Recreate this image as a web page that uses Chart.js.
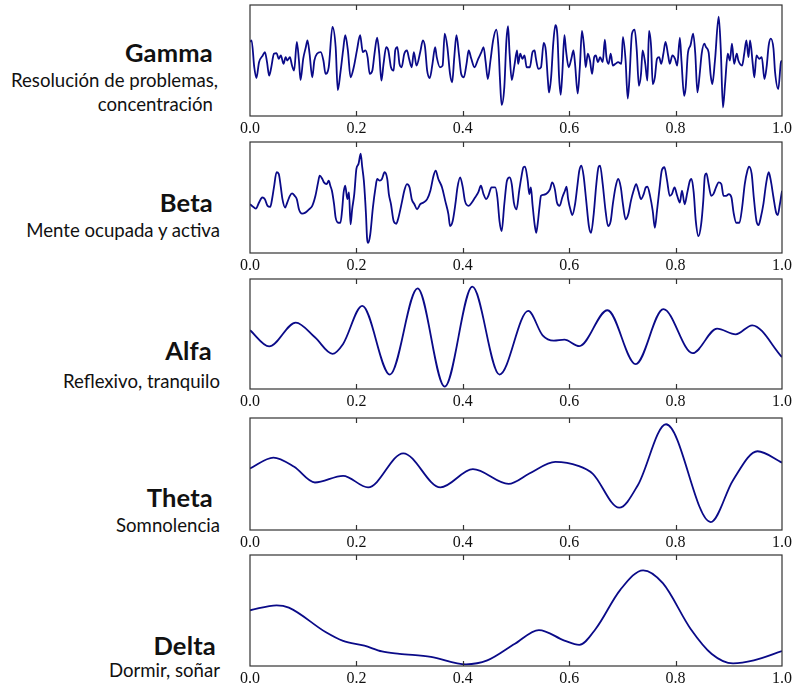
<!DOCTYPE html>
<html>
<head>
<meta charset="utf-8">
<script src="https://cdn.jsdelivr.net/npm/chart.js@4.4.0/dist/chart.umd.min.js"></script>
<style>
  body { margin: 0; background: #fff; width: 795px; height: 689px; overflow: hidden; position: relative; font-family: 'Lato', 'Open Sans', sans-serif; color: #111; }
  .panel { position: absolute; left: 0; width: 795px; }
  .lbl { position: absolute; white-space: nowrap; text-align: right; }
  .ttl { font-weight: bold; font-size: 25.5px; line-height: 30px; letter-spacing: 0.2px; }
  .sub { font-size: 18.6px; line-height: 22px; }
</style>
</head>
<body>
<script>
// eje x compartido (segundos)
const tickVals = [0, 0.2, 0.4, 0.6, 0.8, 1.0];

// Gamma (amplitud relativa)
const gammaX = [0.000,0.003,0.008,0.012,0.017,0.024,0.028,0.032,0.036,0.040,
  0.045,0.050,0.054,0.058,0.063,0.067,0.070,0.075,0.079,0.083,
  0.088,0.092,0.095,0.100,0.105,0.108,0.112,0.117,0.121,0.126,
  0.133,0.138,0.142,0.148,0.155,0.161,0.165,0.170,0.175,0.179,
  0.184,0.189,0.195,0.201,0.207,0.212,0.217,0.221,0.225,0.230,
  0.234,0.239,0.243,0.247,0.251,0.256,0.260,0.265,0.270,0.273,
  0.277,0.281,0.285,0.290,0.295,0.299,0.304,0.308,0.313,0.320,
  0.325,0.329,0.333,0.338,0.343,0.348,0.351,0.357,0.362,0.366,
  0.371,0.376,0.380,0.384,0.388,0.393,0.397,0.402,0.407,0.411,
  0.416,0.422,0.429,0.435,0.439,0.443,0.447,0.452,0.457,0.463,
  0.467,0.470,0.473,0.478,0.482,0.485,0.488,0.492,0.497,0.502,
  0.504,0.508,0.512,0.516,0.520,0.526,0.531,0.535,0.537,0.542,
  0.547,0.552,0.556,0.560,0.562,0.566,0.570,0.574,0.578,0.581,
  0.584,0.587,0.591,0.594,0.599,0.604,0.608,0.611,0.616,0.620,
  0.624,0.628,0.631,0.635,0.639,0.643,0.647,0.650,0.654,0.658,
  0.663,0.667,0.670,0.674,0.678,0.682,0.687,0.692,0.698,0.701,
  0.706,0.710,0.713,0.718,0.723,0.727,0.731,0.735,0.738,0.743,
  0.747,0.750,0.754,0.757,0.761,0.765,0.769,0.773,0.777,0.781,
  0.786,0.789,0.794,0.799,0.803,0.808,0.811,0.816,0.819,0.823,
  0.828,0.833,0.837,0.841,0.845,0.849,0.854,0.857,0.862,0.866,
  0.869,0.874,0.881,0.885,0.889,0.893,0.898,0.902,0.906,0.910,
  0.915,0.918,0.925,0.929,0.933,0.937,0.940,0.945,0.948,0.952,
  0.957,0.962,0.967,0.971,0.975,0.979,0.984,0.987,0.993,0.998,
  1.000];
const gammaY = [55,60,-20,-52,-5,15,25,-5,-45,-20,
  20,22,5,15,-10,10,0,10,-15,-30,
  55,0,-58,5,40,60,20,-50,0,20,
  25,0,-40,-20,100,40,-88,-35,30,75,
  30,-50,-20,30,75,25,30,10,-40,-30,
  20,68,20,-60,-10,40,30,-20,-30,30,
  40,-10,-20,20,30,5,-20,25,-15,25,
  60,40,-30,-52,-10,40,10,-20,-15,80,
  40,-40,-65,10,75,15,-40,-50,-10,30,
  5,-20,5,25,40,-5,-55,0,60,92,
  40,-60,-132,-80,60,102,20,-58,-15,30,
  -10,20,5,15,-20,-20,25,30,10,-25,
  -20,52,30,-60,-95,-50,50,105,70,-50,
  -102,-40,75,30,-20,5,30,-10,-98,-20,
  88,40,-20,20,0,-40,10,15,-5,10,
  -5,62,10,-10,20,-15,-10,-5,-10,70,
  0,-113,-60,80,92,30,-75,-40,30,-10,
  -60,88,40,-70,-50,5,10,-10,20,55,
  15,-10,15,5,-15,68,0,-105,-80,20,
  45,80,20,-95,-45,20,50,40,25,-45,
  -70,0,130,30,-140,-70,20,0,50,-10,
  20,0,-15,20,60,10,60,-10,-50,15,
  5,10,-55,-20,45,65,35,-35,-85,-5,
  0];

// Beta
const betaX = [0.000,0.004,0.011,0.017,0.023,0.028,0.033,0.038,0.042,0.045,
  0.050,0.054,0.058,0.061,0.066,0.070,0.075,0.079,0.084,0.088,
  0.092,0.098,0.104,0.111,0.117,0.123,0.128,0.131,0.136,0.139,
  0.144,0.148,0.151,0.154,0.158,0.161,0.166,0.170,0.173,0.176,
  0.179,0.183,0.186,0.189,0.192,0.196,0.200,0.204,0.208,0.211,
  0.214,0.218,0.220,0.222,0.226,0.231,0.236,0.239,0.244,0.248,
  0.253,0.258,0.261,0.265,0.270,0.275,0.279,0.286,0.290,0.295,
  0.300,0.304,0.309,0.314,0.320,0.326,0.333,0.339,0.345,0.349,
  0.354,0.361,0.367,0.373,0.376,0.381,0.386,0.390,0.395,0.400,
  0.404,0.411,0.417,0.423,0.429,0.434,0.439,0.444,0.448,0.454,
  0.461,0.465,0.469,0.473,0.478,0.483,0.488,0.492,0.496,
  0.501,0.506,0.510,0.514,0.517,0.522,0.525,0.528,0.531,0.535,
  0.538,0.541,0.544,0.547,0.551,0.556,0.560,0.564,0.568,0.573,
  0.577,0.582,0.587,0.592,0.595,0.598,0.603,0.606,0.611,0.615,
  0.619,0.623,0.627,0.632,0.637,0.641,0.646,0.651,0.655,0.658,
  0.663,0.668,0.673,0.678,0.682,0.687,0.692,0.697,0.701,0.706,
  0.711,0.716,0.721,0.726,0.730,0.735,0.740,0.744,0.747,0.752,
  0.757,0.761,0.765,0.770,0.774,0.779,0.784,0.789,0.793,0.798,
  0.803,0.808,0.812,0.817,0.822,0.827,0.830,0.834,0.838,0.843,
  0.848,0.852,0.855,0.858,0.862,0.867,0.871,0.876,0.881,0.886,
  0.890,0.895,0.900,0.905,0.909,0.914,0.920,0.925,0.930,0.935,
  0.938,0.943,0.947,0.952,0.956,0.960,0.965,0.970,0.975,0.979,
  0.984,0.989,0.992,0.996,1.000];
const betaY = [-20,-25,-33,-15,0,-5,-25,-28,0,30,
  75,70,30,-5,-30,-15,5,12,5,-5,
  -35,-48,-45,-35,-25,5,45,65,55,45,
  40,50,35,20,-20,-60,-75,-75,-40,15,
  35,-5,15,-80,-35,10,85,100,130,90,
  50,-50,-120,-135,-110,-30,30,55,50,55,
  75,55,10,-20,-70,-78,-60,-10,20,40,
  30,-5,-20,-35,-20,-15,-5,20,65,80,
  55,30,-10,-50,-85,-70,-20,30,60,30,
  -10,-25,-15,0,15,35,10,-5,5,30,
  30,0,-70,-100,-20,50,60,40,-15,
  -35,20,60,90,92,50,10,30,-20,-80,
  -105,-75,-30,5,8,10,15,25,45,25,
  -15,-25,0,20,32,-5,-40,-52,-20,30,
  80,95,65,-10,-85,-105,-50,40,90,95,
  40,-35,-85,-70,-20,30,55,30,-20,-65,
  -50,-10,20,40,20,-5,10,30,32,5,
  -40,-90,-40,30,80,90,50,5,10,30,
  5,-15,20,-20,15,50,55,15,-70,-115,
  -80,-10,65,72,40,5,10,30,45,40,
  5,5,10,0,-45,-75,-75,-30,40,80,
  92,70,0,-70,-82,-60,-20,40,75,50,
  0,-45,-52,-20,20];

// Alfa (fracción de la altura del panel)
const alfaX = [0,0.036,0.086,0.122,0.155,0.175,0.211,0.263,0.315,0.366,0.418,0.469,0.523,0.550,0.571,0.591,0.619,0.672,0.725,0.777,0.832,0.878,0.913,0.944,1.0];
const alfaY = [0.534,0.387,0.604,0.47,0.32,0.41,0.756,0.131,0.915,0.021,0.93,0.131,0.71,0.488,0.439,0.448,0.39,0.716,0.226,0.726,0.326,0.549,0.497,0.579,0.29];

// Theta
const thetaX = [0,0.044,0.083,0.122,0.175,0.222,0.288,0.358,0.419,0.486,0.525,0.574,0.617,0.644,0.694,0.729,0.782,0.866,0.908,0.954,1.0];
const thetaY = [0.549,0.647,0.564,0.424,0.484,0.38,0.685,0.38,0.543,0.412,0.504,0.608,0.573,0.504,0.199,0.40,0.944,0.071,0.445,0.703,0.602];

// Delta
const deltaX = [0,0.05,0.073,0.142,0.175,0.215,0.248,0.281,0.340,0.406,0.446,0.498,0.543,0.591,0.619,0.650,0.696,0.739,0.776,0.828,0.868,0.908,0.947,1.0];
const deltaY = [0.502,0.547,0.526,0.306,0.226,0.183,0.131,0.110,0.083,0.015,0.05,0.20,0.324,0.229,0.19,0.336,0.686,0.862,0.746,0.336,0.108,0.023,0.05,0.134];

const bandNames = ['Gamma', 'Beta', 'Alfa', 'Theta', 'Delta'];
const bandDesc = [['Resolución de problemas,', 'concentración'], ['Mente ocupada y activa'], ['Reflexivo, tranquilo'], ['Somnolencia'], ['Dormir, soñar']];

// marco con marcas hacia dentro
const framePlugin = {
  id: 'frame',
  afterDatasetsDraw(chart) {
    const { ctx, chartArea: a, scales: { x } } = chart;
    ctx.save();
    ctx.strokeStyle = '#333';
    ctx.lineWidth = 1.2;
    ctx.strokeRect(a.left, a.top, a.right - a.left, a.bottom - a.top);
    ctx.beginPath();
    x.ticks.forEach(t => {
      if (t.value <= 0 || t.value >= 1) return;
      const px = Math.round(x.getPixelForValue(t.value)) + 0.5;
      ctx.moveTo(px, a.top); ctx.lineTo(px, a.top + 5);
      ctx.moveTo(px, a.bottom); ctx.lineTo(px, a.bottom - 5);
    });
    ctx.stroke();
    ctx.restore();
  }
};

const frameTops = [5, 142, 279, 418, 555];
const frameHs = [111, 111, 110, 112, 111];
const padTop = 4, axisH = 26;

function makePanel(i, xs, ys, yMin, yMax) {
  const div = document.createElement('div');
  div.className = 'panel';
  const h = padTop + frameHs[i] + axisH;
  div.style.top = (frameTops[i] - padTop) + 'px';
  div.style.height = h + 'px';
  const cv = document.createElement('canvas');
  cv.width = 795; cv.height = h;
  cv.style.width = '795px'; cv.style.height = h + 'px';
  div.appendChild(cv);
  document.body.appendChild(div);

  new Chart(cv, {
    type: 'line',
    data: {
      datasets: [{
        data: xs.map((x, k) => ({ x: x, y: ys[k] })),
        borderColor: '#0a0a88',
        borderWidth: 1.8,
        pointRadius: 0,
        cubicInterpolationMode: 'monotone',
        fill: false
      }]
    },
    options: {
      responsive: false,
      animation: false,
      events: [],
      layout: { padding: { left: 250, right: 10, top: padTop, bottom: 0 } },
      plugins: { legend: { display: false }, tooltip: { enabled: false } },
      scales: {
        x: {
          type: 'linear', min: 0, max: 1,
          afterBuildTicks: s => { s.ticks = tickVals.map(v => ({ value: v })); },
          afterFit: s => { s.height = axisH; },
          ticks: {
            padding: 3, color: '#111', maxRotation: 0, autoSkip: false,
            font: { family: "'Liberation Serif', serif", size: 16 },
            callback: v => v.toFixed(1)
          },
          grid: { display: false, drawTicks: false },
          border: { display: false }
        },
        y: { display: false, min: yMin, max: yMax }
      }
    },
    plugins: [framePlugin]
  });
}

// etiquetas a la izquierda
const titleRight = [213, 213, 212, 213, 216];
const titleY = [52, 202, 350, 497, 645];
const descRight = [[218, 213], [220], [220], [220], [220]];
const descY = [[80, 104], [230], [381], [525], [670]];

function addLabel(text, cls, right, cy, lh) {
  const d = document.createElement('div');
  d.className = 'lbl ' + cls;
  d.textContent = text;
  d.style.right = (795 - right) + 'px';
  d.style.top = (cy - lh / 2) + 'px';
  document.body.appendChild(d);
}

bandNames.forEach((name, i) => {
  addLabel(name, 'ttl', titleRight[i], titleY[i], 30);
  bandDesc[i].forEach((line, j) => addLabel(line, 'sub', descRight[i][j], descY[i][j], 22));
});

makePanel(0, gammaX, gammaY, -165, 165);
makePanel(1, betaX, betaY, -165, 165);
makePanel(2, alfaX, alfaY, 0, 1);
makePanel(3, thetaX, thetaY, 0, 1);
makePanel(4, deltaX, deltaY, 0, 1);
</script>
</body>
</html>
